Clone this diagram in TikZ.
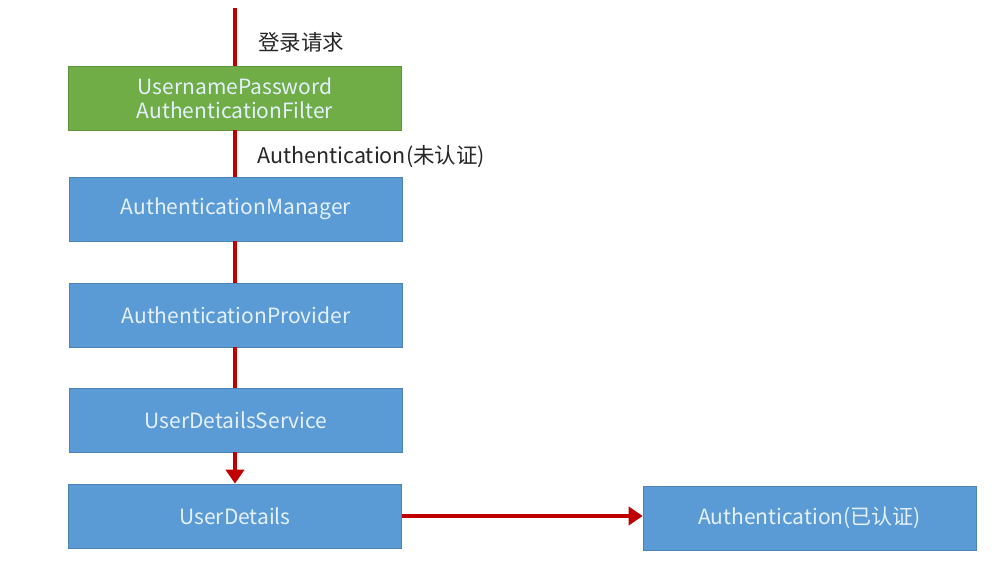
\documentclass[tikz,border=0pt]{standalone}
\usepackage{fontspec}
\setmainfont{Noto Sans CJK SC}
\usetikzlibrary{arrows.meta}
\definecolor{boxblue}{HTML}{5B9BD5}
\definecolor{boxgreen}{HTML}{70AD47}
\definecolor{boxtext}{HTML}{E4F0FB}
\definecolor{flowred}{HTML}{C00000}
\tikzset{
  box/.style={draw=boxblue!85!black, line width=0.6pt, fill=boxblue, minimum width=333pt, minimum height=64pt, inner sep=0pt, text=boxtext, font=\fontsize{21}{24}\selectfont, align=center},
  flow/.style={draw=flowred, line width=4pt},
  lbl/.style={anchor=west, font=\fontsize{21.5}{25}\selectfont, text=black!85, inner sep=0pt}
}
\begin{document}
\begin{tikzpicture}[x=1pt,y=1pt]
\useasboundingbox (0,0) rectangle (995,561);
\coordinate (top) at (235,553);
\node[box, fill=boxgreen, draw=boxgreen!85!black] (filter) at (235,463) {UsernamePassword\\AuthenticationFilter};
\node[box] (manager) at (236,352) {AuthenticationManager};
\node[box] (provider) at (236,246) {AuthenticationProvider};
\node[box] (service) at (236,141) {UserDetailsService};
\node[box] (details) at (235,45) {UserDetails};
\node[box] (auth) at (809.5,43) {Authentication(已认证)};
\draw[flow] (top) -- (filter.north -| top);
\draw[flow] (filter.south -| top) -- (manager.north -| top);
\draw[flow] (manager.south -| top) -- (provider.north -| top);
\draw[flow] (provider.south -| top) -- (service.north -| top);
\draw[flow, -{Triangle[length=14pt,width=18pt]}] (service.south -| top) -- (details.north -| top);
\draw[flow, -{Triangle[length=14pt,width=18pt]}] (details.east) -- (auth.west |- details.east);
\node[lbl] (l1) at (258,519) {登录请求};
\node[lbl] (l2) at (257,404) {Authentication(未认证)};
\end{tikzpicture}
\end{document}
